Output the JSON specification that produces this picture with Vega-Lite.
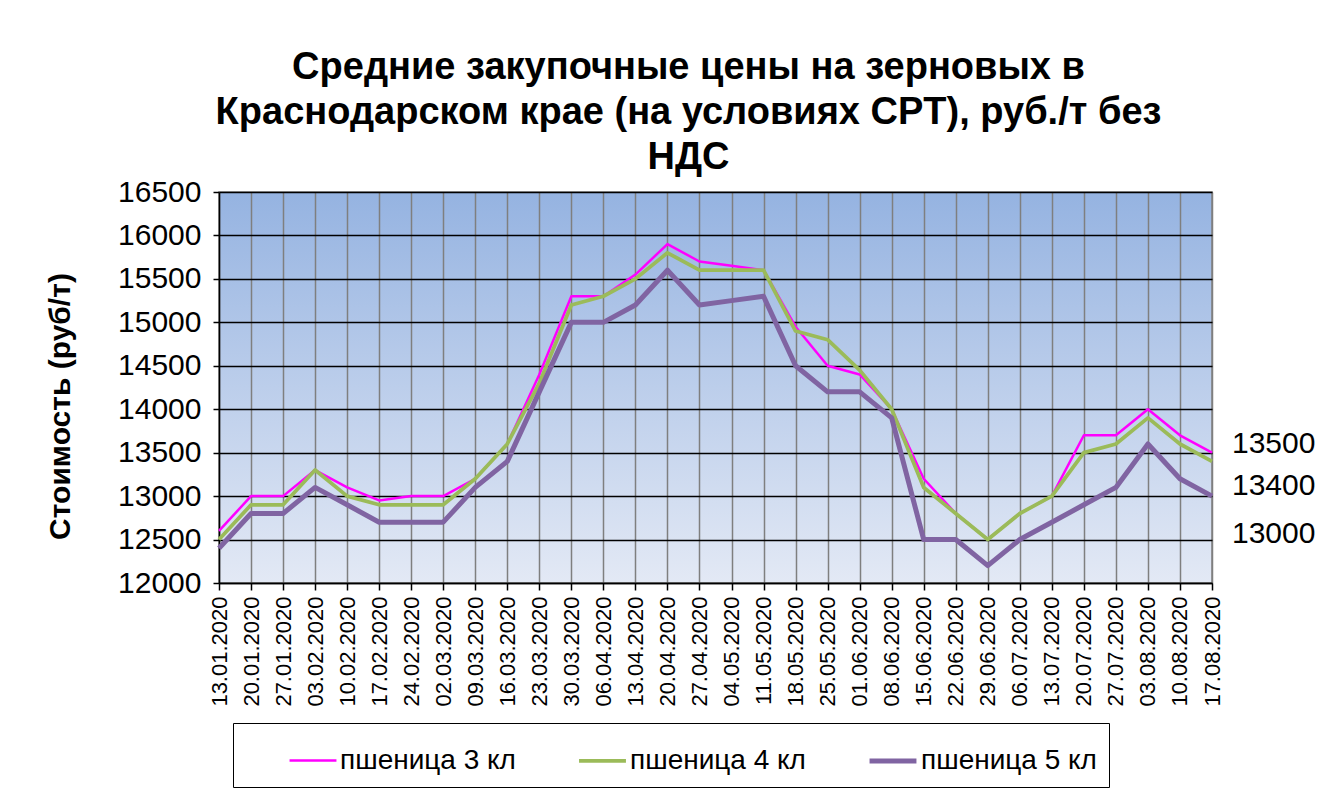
{
  "$schema": "https://vega.github.io/schema/vega-lite/v6.json",
  "width": 993,
  "height": 391,
  "autosize": {"type": "none"},
  "padding": {"left": 219, "top": 192, "right": 115, "bottom": 206},
  "background": "white",
  "view": {
    "fill": {"gradient": "linear", "x1": 0, "y1": 0, "x2": 0, "y2": 1, "stops": [{"offset": 0, "color": "#95b3e1"}, {"offset": 1, "color": "#e3e9f5"}]},
    "stroke": "#808080",
    "strokeWidth": 1.5
  },
  "title": {
    "text": ["Средние закупочные цены на зерновых в", "Краснодарском крае (на условиях CPT), руб./т без", "НДС"],
    "font": "Liberation Sans",
    "fontSize": 38,
    "fontWeight": "bold",
    "lineHeight": 45,
    "color": "black",
    "anchor": "middle",
    "dx": -27,
    "offset": 0
  },
  "data": {
    "values": [
      {"d": "13.01.2020", "s": "пшеница 3 кл", "v": 12600}, {"d": "13.01.2020", "s": "пшеница 4 кл", "v": 12500}, {"d": "13.01.2020", "s": "пшеница 5 кл", "v": 12400},
      {"d": "20.01.2020", "s": "пшеница 3 кл", "v": 13000}, {"d": "20.01.2020", "s": "пшеница 4 кл", "v": 12900}, {"d": "20.01.2020", "s": "пшеница 5 кл", "v": 12800},
      {"d": "27.01.2020", "s": "пшеница 3 кл", "v": 13000}, {"d": "27.01.2020", "s": "пшеница 4 кл", "v": 12900}, {"d": "27.01.2020", "s": "пшеница 5 кл", "v": 12800},
      {"d": "03.02.2020", "s": "пшеница 3 кл", "v": 13300}, {"d": "03.02.2020", "s": "пшеница 4 кл", "v": 13300}, {"d": "03.02.2020", "s": "пшеница 5 кл", "v": 13100},
      {"d": "10.02.2020", "s": "пшеница 3 кл", "v": 13100}, {"d": "10.02.2020", "s": "пшеница 4 кл", "v": 13000}, {"d": "10.02.2020", "s": "пшеница 5 кл", "v": 12900},
      {"d": "17.02.2020", "s": "пшеница 3 кл", "v": 12950}, {"d": "17.02.2020", "s": "пшеница 4 кл", "v": 12900}, {"d": "17.02.2020", "s": "пшеница 5 кл", "v": 12700},
      {"d": "24.02.2020", "s": "пшеница 3 кл", "v": 13000}, {"d": "24.02.2020", "s": "пшеница 4 кл", "v": 12900}, {"d": "24.02.2020", "s": "пшеница 5 кл", "v": 12700},
      {"d": "02.03.2020", "s": "пшеница 3 кл", "v": 13000}, {"d": "02.03.2020", "s": "пшеница 4 кл", "v": 12900}, {"d": "02.03.2020", "s": "пшеница 5 кл", "v": 12700},
      {"d": "09.03.2020", "s": "пшеница 3 кл", "v": 13200}, {"d": "09.03.2020", "s": "пшеница 4 кл", "v": 13200}, {"d": "09.03.2020", "s": "пшеница 5 кл", "v": 13100},
      {"d": "16.03.2020", "s": "пшеница 3 кл", "v": 13600}, {"d": "16.03.2020", "s": "пшеница 4 кл", "v": 13600}, {"d": "16.03.2020", "s": "пшеница 5 кл", "v": 13400},
      {"d": "23.03.2020", "s": "пшеница 3 кл", "v": 14400}, {"d": "23.03.2020", "s": "пшеница 4 кл", "v": 14300}, {"d": "23.03.2020", "s": "пшеница 5 кл", "v": 14200},
      {"d": "30.03.2020", "s": "пшеница 3 кл", "v": 15300}, {"d": "30.03.2020", "s": "пшеница 4 кл", "v": 15200}, {"d": "30.03.2020", "s": "пшеница 5 кл", "v": 15000},
      {"d": "06.04.2020", "s": "пшеница 3 кл", "v": 15300}, {"d": "06.04.2020", "s": "пшеница 4 кл", "v": 15300}, {"d": "06.04.2020", "s": "пшеница 5 кл", "v": 15000},
      {"d": "13.04.2020", "s": "пшеница 3 кл", "v": 15550}, {"d": "13.04.2020", "s": "пшеница 4 кл", "v": 15500}, {"d": "13.04.2020", "s": "пшеница 5 кл", "v": 15200},
      {"d": "20.04.2020", "s": "пшеница 3 кл", "v": 15900}, {"d": "20.04.2020", "s": "пшеница 4 кл", "v": 15800}, {"d": "20.04.2020", "s": "пшеница 5 кл", "v": 15600},
      {"d": "27.04.2020", "s": "пшеница 3 кл", "v": 15700}, {"d": "27.04.2020", "s": "пшеница 4 кл", "v": 15600}, {"d": "27.04.2020", "s": "пшеница 5 кл", "v": 15200},
      {"d": "04.05.2020", "s": "пшеница 3 кл", "v": 15650}, {"d": "04.05.2020", "s": "пшеница 4 кл", "v": 15600}, {"d": "04.05.2020", "s": "пшеница 5 кл", "v": 15250},
      {"d": "11.05.2020", "s": "пшеница 3 кл", "v": 15600}, {"d": "11.05.2020", "s": "пшеница 4 кл", "v": 15600}, {"d": "11.05.2020", "s": "пшеница 5 кл", "v": 15300},
      {"d": "18.05.2020", "s": "пшеница 3 кл", "v": 14950}, {"d": "18.05.2020", "s": "пшеница 4 кл", "v": 14900}, {"d": "18.05.2020", "s": "пшеница 5 кл", "v": 14500},
      {"d": "25.05.2020", "s": "пшеница 3 кл", "v": 14500}, {"d": "25.05.2020", "s": "пшеница 4 кл", "v": 14800}, {"d": "25.05.2020", "s": "пшеница 5 кл", "v": 14200},
      {"d": "01.06.2020", "s": "пшеница 3 кл", "v": 14400}, {"d": "01.06.2020", "s": "пшеница 4 кл", "v": 14450}, {"d": "01.06.2020", "s": "пшеница 5 кл", "v": 14200},
      {"d": "08.06.2020", "s": "пшеница 3 кл", "v": 14000}, {"d": "08.06.2020", "s": "пшеница 4 кл", "v": 14000}, {"d": "08.06.2020", "s": "пшеница 5 кл", "v": 13900},
      {"d": "15.06.2020", "s": "пшеница 3 кл", "v": 13200}, {"d": "15.06.2020", "s": "пшеница 4 кл", "v": 13100}, {"d": "15.06.2020", "s": "пшеница 5 кл", "v": 12500},
      {"d": "22.06.2020", "s": "пшеница 3 кл", "v": 12800}, {"d": "22.06.2020", "s": "пшеница 4 кл", "v": 12800}, {"d": "22.06.2020", "s": "пшеница 5 кл", "v": 12500},
      {"d": "29.06.2020", "s": "пшеница 3 кл", "v": 12500}, {"d": "29.06.2020", "s": "пшеница 4 кл", "v": 12500}, {"d": "29.06.2020", "s": "пшеница 5 кл", "v": 12200},
      {"d": "06.07.2020", "s": "пшеница 3 кл", "v": 12800}, {"d": "06.07.2020", "s": "пшеница 4 кл", "v": 12800}, {"d": "06.07.2020", "s": "пшеница 5 кл", "v": 12500},
      {"d": "13.07.2020", "s": "пшеница 3 кл", "v": 13000}, {"d": "13.07.2020", "s": "пшеница 4 кл", "v": 13000}, {"d": "13.07.2020", "s": "пшеница 5 кл", "v": 12700},
      {"d": "20.07.2020", "s": "пшеница 3 кл", "v": 13700}, {"d": "20.07.2020", "s": "пшеница 4 кл", "v": 13500}, {"d": "20.07.2020", "s": "пшеница 5 кл", "v": 12900},
      {"d": "27.07.2020", "s": "пшеница 3 кл", "v": 13700}, {"d": "27.07.2020", "s": "пшеница 4 кл", "v": 13600}, {"d": "27.07.2020", "s": "пшеница 5 кл", "v": 13100},
      {"d": "03.08.2020", "s": "пшеница 3 кл", "v": 14000}, {"d": "03.08.2020", "s": "пшеница 4 кл", "v": 13900}, {"d": "03.08.2020", "s": "пшеница 5 кл", "v": 13600},
      {"d": "10.08.2020", "s": "пшеница 3 кл", "v": 13700}, {"d": "10.08.2020", "s": "пшеница 4 кл", "v": 13600}, {"d": "10.08.2020", "s": "пшеница 5 кл", "v": 13200},
      {"d": "17.08.2020", "s": "пшеница 3 кл", "v": 13500}, {"d": "17.08.2020", "s": "пшеница 4 кл", "v": 13400}, {"d": "17.08.2020", "s": "пшеница 5 кл", "v": 13000}
    ]
  },
  "encoding": {
    "x": {
      "field": "d",
      "type": "ordinal",
      "sort": null,
      "scale": {"type": "point", "padding": 0},
      "axis": {
        "title": null,
        "labelAngle": -90,
        "labelFont": "Liberation Sans",
        "labelFontSize": 22,
        "labelColor": "black",
        "labelPadding": 6,
        "labelOverlap": false,
        "tickSize": 7,
        "tickColor": "black",
        "tickWidth": 1.5,
        "domainColor": "black",
        "domainWidth": 1.5,
        "grid": true,
        "gridColor": "#7f7f7f",
        "gridWidth": 1.5
      }
    },
    "y": {
      "field": "v",
      "type": "quantitative",
      "scale": {"domain": [12000, 16500], "nice": false, "zero": false},
      "axis": {
        "values": [12000, 12500, 13000, 13500, 14000, 14500, 15000, 15500, 16000, 16500],
        "format": "d",
        "title": "Стоимость (руб/т)",
        "titleFont": "Liberation Sans",
        "titleFontSize": 30,
        "titleFontWeight": "bold",
        "titleColor": "black",
        "titleX": -159,
        "titleY": 214,
        "titleAngle": -90,
        "titleAlign": "center",
        "titleBaseline": "middle",
        "labelFont": "Liberation Sans",
        "labelFontSize": 30,
        "labelColor": "black",
        "labelPadding": 12,
        "tickSize": 6,
        "tickColor": "black",
        "tickWidth": 1.5,
        "domainColor": "black",
        "domainWidth": 1.5,
        "grid": true,
        "gridColor": "black",
        "gridWidth": 1.5
      }
    }
  },
  "layer": [
    {
      "mark": {"type": "line", "strokeJoin": "round"},
      "encoding": {
        "color": {
          "field": "s",
          "type": "nominal",
          "scale": {"domain": ["пшеница 3 кл", "пшеница 4 кл", "пшеница 5 кл"], "range": ["#ff00ff", "#9bbb59", "#8064a2"]},
          "legend": {
            "orient": "none",
            "legendX": 14,
            "legendY": 531,
            "direction": "horizontal",
            "title": null,
            "strokeColor": "black",
            "fillColor": "white",
            "padding": 12,
            "symbolType": "stroke",
            "symbolSize": 2200,
            "labelFont": "Liberation Sans",
            "labelFontSize": 28,
            "labelColor": "black",
            "labelLimit": 400,
            "labelOffset": 2,
            "columnPadding": 18,
            "symbolOffset": 43
          }
        },
        "strokeWidth": {
          "field": "s",
          "type": "nominal",
          "scale": {"domain": ["пшеница 3 кл", "пшеница 4 кл", "пшеница 5 кл"], "range": [2.5, 5, 5]},
          "legend": {
            "orient": "none",
            "legendX": 14,
            "legendY": 531,
            "direction": "horizontal",
            "title": null
          }
        }
      }
    },
    {
      "transform": [{"filter": "datum.d == '17.08.2020' && datum.s == 'пшеница 3 кл'"}],
      "mark": {"type": "text", "align": "left", "baseline": "middle", "dx": 20, "dy": -9, "font": "Liberation Sans", "fontSize": 30, "color": "black"},
      "encoding": {"text": {"field": "v", "type": "quantitative", "format": "d"}}
    },
    {
      "transform": [{"filter": "datum.d == '17.08.2020' && datum.s == 'пшеница 4 кл'"}],
      "mark": {"type": "text", "align": "left", "baseline": "middle", "dx": 20, "dy": 25, "font": "Liberation Sans", "fontSize": 30, "color": "black"},
      "encoding": {"text": {"field": "v", "type": "quantitative", "format": "d"}}
    },
    {
      "transform": [{"filter": "datum.d == '17.08.2020' && datum.s == 'пшеница 5 кл'"}],
      "mark": {"type": "text", "align": "left", "baseline": "middle", "dx": 20, "dy": 38, "font": "Liberation Sans", "fontSize": 30, "color": "black"},
      "encoding": {"text": {"field": "v", "type": "quantitative", "format": "d"}}
    }
  ]
}
